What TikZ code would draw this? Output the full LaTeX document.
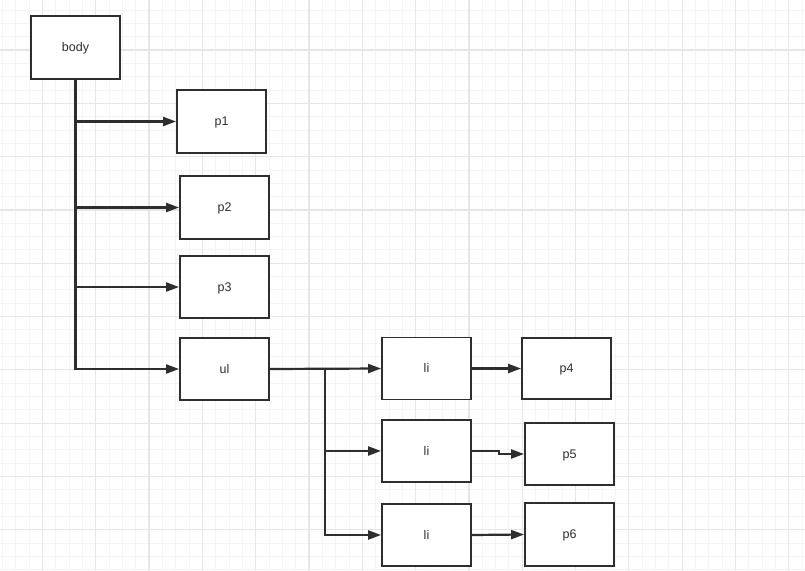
\documentclass[tikz,border=0pt]{standalone}
\usepackage{fontspec}
\setmainfont{Liberation Sans}
\usetikzlibrary{arrows.meta}
\definecolor{ink}{HTML}{2E2E2E}
\definecolor{gridminor}{HTML}{F4F4F4}
\definecolor{gridmajor}{HTML}{E6E6E6}
\begin{document}
\begin{tikzpicture}[x=1pt,y=-1pt,
  box/.style={draw=ink,line width=1.9pt,fill=white,minimum width=89pt,minimum height=62pt,inner sep=0pt,font=\fontsize{12.5}{14}\selectfont,text=ink,text height=9pt,text depth=1pt},
  conn/.style={draw=ink,line width=2.2pt},
  arr/.style={conn,-{Triangle[length=13pt,width=9pt]}}]
\useasboundingbox (0,0) rectangle (805,570);
\fill[white] (0,0) rectangle (805,570);
% grid
\foreach \i in {0,...,60} {
  \draw[gridminor,line width=0.9pt] ({2.4+13.33*\i},0) -- ({2.4+13.33*\i},570);
}
\foreach \i in {0,...,43} {
  \draw[gridminor,line width=0.9pt] (0,{10+13.33*\i}) -- (805,{10+13.33*\i});
}
\foreach \i in {0,...,15} {
  \draw[gridmajor,line width=1.1pt] ({42.4+53.32*\i},0) -- ({42.4+53.32*\i},570);
}
\foreach \i in {0,...,10} {
  \draw[gridmajor,line width=1.1pt] (0,{50+53.32*\i}) -- (805,{50+53.32*\i});
}
% nodes
\node[box,minimum height=63pt] (body) at (75.5,47.5) {body};
\node[box,minimum height=63pt] (p1) at (221.5,121.5) {p1};
\node[box,minimum height=63pt] (p2) at (224.5,207.5) {p2};
\node[box] (p3) at (224.5,287) {p3};
\node[box] (ul) at (224.5,369) {ul};
\node[box] (li1) at (426.5,368.5) {li};
\node[box] (li2) at (426.5,451) {li};
\node[box] (li3) at (426.5,535) {li};
\node[box,minimum height=61pt] (p4) at (566.5,368.5) {p4};
\node[box] (p5) at (569.5,454) {p5};
\node[box,minimum height=63pt] (p6) at (569.5,534.5) {p6};
% connectors from body
\draw[arr] (body.south) |- (ul.west);
\draw[arr] (body.south |- p1.west) -- (p1.west);
\draw[arr] (body.south |- p2.west) -- (p2.west);
\draw[arr] (body.south |- p3.west) -- (p3.west);
% ul to li
\coordinate (ub) at (325,369);
\draw[arr] (ul.east) -- (li1.west);
\draw[arr] (ub) |- (li3.west);
\draw[arr] (ub |- li2.west) -- (li2.west);
% li to p
\draw[arr] (li1.east) -- (p4.west);
\draw[arr] (li2.east) -- ++(27,0) |- (p5.west);
\draw[arr] (li3.east) -- (p6.west);
\end{tikzpicture}
\end{document}
